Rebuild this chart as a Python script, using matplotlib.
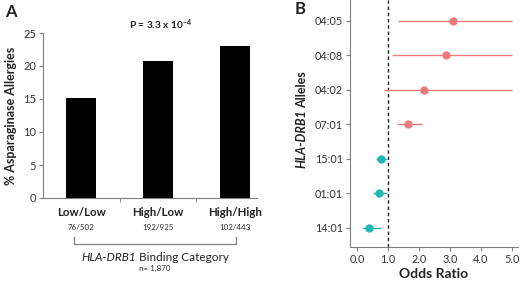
import matplotlib
matplotlib.use("Agg")
import matplotlib.pyplot as plt
from matplotlib.transforms import blended_transform_factory

plt.rcParams['font.family'] = ['Lato', 'DejaVu Sans']
plt.rcParams['mathtext.fontset'] = 'custom'
plt.rcParams['mathtext.rm'] = 'Lato'
plt.rcParams['mathtext.it'] = 'Lato:italic'
plt.rcParams['mathtext.bf'] = 'Lato:bold'

# Panel A data
categories = ["Low/Low", "High/Low", "High/High"]
counts = ["76/502", "192/925", "102/443"]
allergy_pct = [15.14, 20.76, 23.02]
y_ticks_a = [0, 5, 10, 15, 20, 25]

# Panel B data
alleles = ["14:01", "01:01", "15:01", "07:01", "04:02", "04:08", "04:05"]
odds = [0.39, 0.71, 0.77, 1.65, 2.16, 2.87, 3.10]
ci_low = [0.19, 0.52, 0.61, 1.29, 0.87, 1.13, 1.32]
ci_high = [0.77, 0.98, 0.96, 2.10, 5.0, 5.0, 5.0]
x_ticks_b = [0.0, 1.0, 2.0, 3.0, 4.0, 5.0]

salmon = "#F07A7A"
teal = "#1DB8B2"
gray = "#7f7f7f"
txt = "#222222"

fig = plt.figure(figsize=(5.2, 2.84), dpi=100)

# ---------- Panel A ----------
axA = fig.add_axes([43/520, 1-198/284, (257-43)/520, (198-33)/284])
xs = list(range(len(categories)))
axA.bar(xs, allergy_pct, width=0.39, color="black")
axA.set_xlim(-0.5, 2.29)
axA.set_ylim(0, 25)
axA.set_yticks(y_ticks_a)
axA.set_yticklabels([str(v) for v in y_ticks_a], fontsize=8, color="#333333")
axA.tick_params(axis='y', length=3, color=gray, pad=2)
axA.set_xticks(xs)
axA.set_xticklabels([])
axA.tick_params(axis='x', which='major', length=0)
axA.set_xticks([0.5, 1.5], minor=True)
axA.tick_params(axis='x', which='minor', length=3, color=gray)
for s in ['top', 'right']:
    axA.spines[s].set_visible(False)
for s in ['left', 'bottom']:
    axA.spines[s].set_color(gray)
    axA.spines[s].set_linewidth(0.8)
axA.set_ylabel("% Asparaginase Allergies", fontsize=9, fontweight='bold', labelpad=4, color=txt)

tr = blended_transform_factory(axA.transData, axA.transAxes)
for x, c, n in zip(xs, categories, counts):
    axA.text(x, -0.09, c, transform=tr, ha='center', va='center', fontsize=8.3,
             fontweight='bold', color=txt)
    axA.text(x, -0.176, n, transform=tr, ha='center', va='center', fontsize=5.8, color="#333333")
# bracket
axA.plot([-0.09, -0.09, 2.01, 2.01], [-0.236, -0.279, -0.279, -0.236], transform=tr,
         color=gray, lw=0.9, clip_on=False)

# "HLA-DRB1 Binding Category" built from an italic and a regular piece
t1 = axA.text(0.0, -0.36, "HLA-DRB1", transform=tr, ha='left', va='center', fontsize=8.5,
              fontstyle='italic', color=txt)
t2 = axA.annotate(" Binding Category", xy=(1, 0.5), xycoords=t1, ha='left', va='center',
                  fontsize=8.5, color=txt)
fig.canvas.draw()
r = fig.canvas.get_renderer()
w1 = t1.get_window_extent(r).width
w2 = t2.get_window_extent(r).width
cx_disp = tr.transform((0.96, -0.36))[0]
start_disp = cx_disp - (w1 + w2) / 2
start_data = axA.transData.inverted().transform((start_disp, 0))[0]
t1.set_x(start_data)

axA.text(0.96, -0.43, "n= 1,870", transform=tr, ha='center', va='center', fontsize=5.8,
         color="#333333")
axA.text(1.03, 1.048, r"P = 3.3 x $\mathbf{10^{-4}}$", transform=tr, ha='center', va='center',
         fontsize=7.3, fontweight='bold', color=txt)

fig.text(5/520, 1-12/284, "A", fontsize=12, fontweight='bold', ha='left', va='center', color=txt)

# ---------- Panel B ----------
axB = fig.add_axes([350/520, 1-247/284, (518-350)/520, 247/284])
ys = list(range(len(alleles)))
for y, o, lo, hi in zip(ys, odds, ci_low, ci_high):
    col = salmon if o > 1 else teal
    axB.plot([lo, hi], [y, y], color=col, lw=1.0, solid_capstyle='butt', zorder=2)
    axB.plot([o], [y], 'o', color=col, ms=5, zorder=3)
axB.axvline(1.0, color="#222222", lw=1.0, ls=(0, (2.5, 2)), zorder=1)
axB.set_xlim(-0.23, 5.2)
axB.set_ylim(-0.55, 6.6)
axB.set_xticks(x_ticks_b)
axB.set_xticklabels([f"{v:.1f}" for v in x_ticks_b], fontsize=7.8, color="#333333")
axB.set_yticks(ys)
axB.set_yticklabels(alleles, fontsize=7.8, color="#333333")
axB.tick_params(axis='both', length=3, color=gray, pad=2)
for s in ['top', 'right']:
    axB.spines[s].set_visible(False)
for s in ['left', 'bottom']:
    axB.spines[s].set_color(gray)
    axB.spines[s].set_linewidth(0.8)
axB.set_xlabel("Odds Ratio", fontsize=10, fontweight='bold', labelpad=2, color=txt)

# rotated label "HLA-DRB1 Alleles" (bold italic + bold)
fig.canvas.draw()
r = fig.canvas.get_renderer()
ybx = 302 / 520
gap = 1.0
b1 = fig.text(ybx, 0, "HLA-DRB1", rotation=90, fontsize=9, fontweight='bold',
              fontstyle='italic', ha='center', va='bottom', color=txt)
b2 = fig.text(ybx, 0, "Alleles", rotation=90, fontsize=9, fontweight='bold',
              ha='center', va='bottom', color=txt)
fig.canvas.draw()
h1 = b1.get_window_extent(r).height
h2 = b2.get_window_extent(r).height
fig_h = fig.bbox.height
center_y = (1 - 120 / 284) * fig_h
start = center_y - (h1 + h2 + gap) / 2
b1.set_y(start / fig_h)
b2.set_y((start + h1 + gap) / fig_h)

fig.text(295/520, 1-9/284, "B", fontsize=12, fontweight='bold', ha='left', va='center', color=txt)

fig.savefig("out.png", dpi=100)
